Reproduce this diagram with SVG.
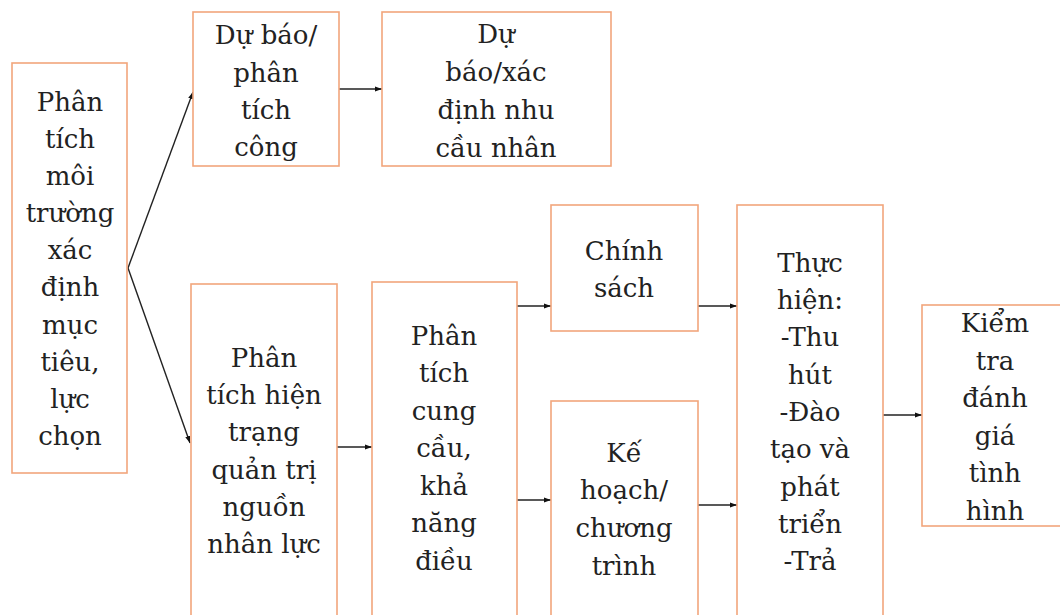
<svg xmlns="http://www.w3.org/2000/svg" width="1060" height="615" viewBox="0 0 1060 615">
<defs>
<marker id="ah" markerWidth="8" markerHeight="6" refX="7" refY="3" orient="auto" markerUnits="userSpaceOnUse">
<path d="M0,0.5 L7,3 L0,5.5 Z" fill="#111"/>
</marker>
<style>
.box{fill:#fff;stroke:#F2A67C;stroke-width:1.6}
.t{font-family:'DejaVu Serif','Liberation Serif',serif;font-size:26px;fill:#222;text-anchor:middle}
.c{stroke:#222;stroke-width:1.4;fill:none;marker-end:url(#ah)}
</style>
</defs>
<rect width="1060" height="615" fill="#fff"/>
<g id="connectors">
<path class="c" d="M128,268 L193,92"/>
<path class="c" d="M128,268 L190,443"/>
<path class="c" d="M339,89 L382,89"/>
<path class="c" d="M337,447 L372,447"/>
<path class="c" d="M517,306 L551,306"/>
<path class="c" d="M517,500 L551,500"/>
<path class="c" d="M698,306 L737,306"/>
<path class="c" d="M698,505 L737,505"/>
<path class="c" d="M883,415 L922,415"/>
</g>
<g id="n1">
<rect class="box" x="12" y="63" width="115" height="410"/>
<text class="t" x="70" y="111">Phân</text>
<text class="t" x="70" y="148">tích</text>
<text class="t" x="70" y="185">môi</text>
<text class="t" x="70" y="222">trường</text>
<text class="t" x="70" y="259">xác</text>
<text class="t" x="70" y="296">định</text>
<text class="t" x="70" y="334">mục</text>
<text class="t" x="70" y="371">tiêu,</text>
<text class="t" x="70" y="408">lực</text>
<text class="t" x="70" y="445">chọn</text>
</g>
<g id="n2">
<rect class="box" x="193" y="12" width="146" height="154"/>
<text class="t" x="266" y="44">Dự báo/</text>
<text class="t" x="266" y="82">phân</text>
<text class="t" x="266" y="119">tích</text>
<text class="t" x="266" y="156">công</text>
</g>
<g id="n3">
<rect class="box" x="382" y="12" width="229" height="154"/>
<text class="t" x="496" y="43">Dự</text>
<text class="t" x="496" y="81">báo/xác</text>
<text class="t" x="496" y="119">định nhu</text>
<text class="t" x="496" y="157">cầu nhân</text>
</g>
<g id="n4">
<rect class="box" x="191" y="284" width="146" height="340"/>
<text class="t" x="264" y="367">Phân</text>
<text class="t" x="264" y="404">tích hiện</text>
<text class="t" x="264" y="441">trạng</text>
<text class="t" x="264" y="479">quản trị</text>
<text class="t" x="264" y="516">nguồn</text>
<text class="t" x="264" y="553">nhân lực</text>
</g>
<g id="n5">
<rect class="box" x="372" y="282" width="145" height="342"/>
<text class="t" x="444" y="345">Phân</text>
<text class="t" x="444" y="382">tích</text>
<text class="t" x="444" y="420">cung</text>
<text class="t" x="444" y="457">cầu,</text>
<text class="t" x="444" y="495">khả</text>
<text class="t" x="444" y="532">năng</text>
<text class="t" x="444" y="570">điều</text>
</g>
<g id="n6">
<rect class="box" x="551" y="205" width="147" height="126"/>
<text class="t" x="624" y="260">Chính</text>
<text class="t" x="624" y="297">sách</text>
</g>
<g id="n7">
<rect class="box" x="551" y="401" width="147" height="223"/>
<text class="t" x="624" y="462">Kế</text>
<text class="t" x="624" y="499">hoạch/</text>
<text class="t" x="624" y="537">chương</text>
<text class="t" x="624" y="575">trình</text>
</g>
<g id="n8">
<rect class="box" x="737" y="205" width="146" height="419"/>
<text class="t" x="810" y="272">Thực</text>
<text class="t" x="810" y="309">hiện:</text>
<text class="t" x="810" y="346">-Thu</text>
<text class="t" x="810" y="384">hút</text>
<text class="t" x="810" y="421">-Đào</text>
<text class="t" x="810" y="458">tạo và</text>
<text class="t" x="810" y="496">phát</text>
<text class="t" x="810" y="533">triển</text>
<text class="t" x="810" y="570">-Trả</text>
</g>
<g id="n9">
<rect class="box" x="922" y="305" width="146" height="221"/>
<text class="t" x="995" y="332">Kiểm</text>
<text class="t" x="995" y="370">tra</text>
<text class="t" x="995" y="407">đánh</text>
<text class="t" x="995" y="445">giá</text>
<text class="t" x="995" y="482">tình</text>
<text class="t" x="995" y="520">hình</text>
</g>
</svg>
